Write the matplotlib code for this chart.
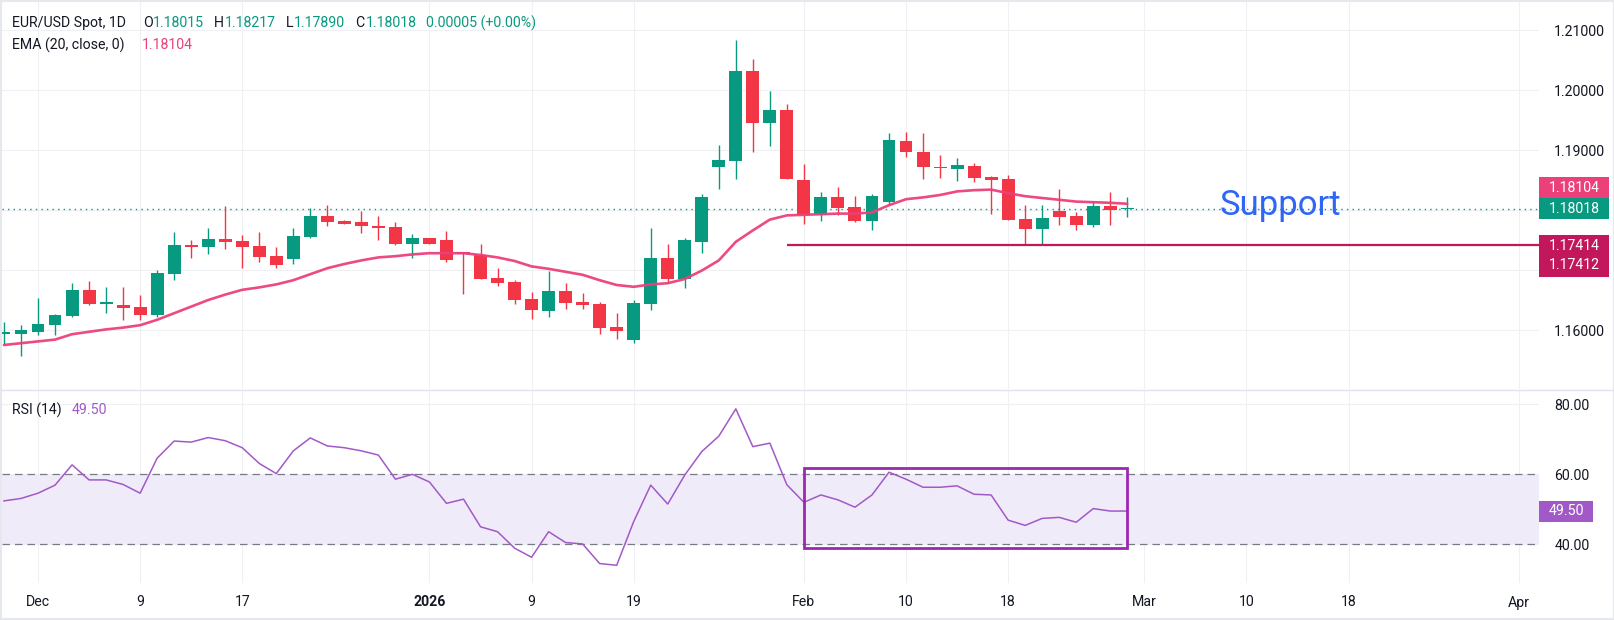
import numpy as np
import pandas as pd
import matplotlib
matplotlib.use('Agg')
import matplotlib.pyplot as plt
from matplotlib.patches import Rectangle
from matplotlib.transforms import blended_transform_factory

plt.rcParams['font.family'] = ['Roboto', 'DejaVu Sans']

# ---------------- data ----------------
dates = pd.bdate_range('2025-11-27', '2026-02-27')

opens = [1.1594, 1.1594, 1.1596, 1.1609, 1.1624, 1.1667, 1.1644, 1.1642, 1.1638, 1.1625,
         1.1693, 1.1742, 1.1738, 1.1752, 1.1748, 1.1740, 1.1723, 1.1718, 1.1755, 1.1790,
         1.1782, 1.1780, 1.1773, 1.1772, 1.1743, 1.1753, 1.1750, 1.1729, 1.1725, 1.1687,
         1.1680, 1.1652, 1.1632, 1.1665, 1.1647, 1.1643, 1.1605, 1.1583, 1.1643, 1.1720,
         1.1685, 1.1747, 1.1872, 1.1882, 1.2032, 1.1945, 1.1967, 1.1850, 1.1791, 1.1822,
         1.1805, 1.1781, 1.1814, 1.1915, 1.1897, 1.1872, 1.1868, 1.1873, 1.1855, 1.1852,
         1.1785, 1.1768, 1.1798, 1.1790, 1.1775, 1.1807, 1.18015]
highs = [1.1613, 1.1608, 1.1653, 1.1627, 1.1678, 1.1682, 1.1672, 1.1672, 1.1658, 1.1700,
         1.1763, 1.1750, 1.1770, 1.1806, 1.1758, 1.1763, 1.1738, 1.1770, 1.1803, 1.1808,
         1.1783, 1.1798, 1.1790, 1.1780, 1.1760, 1.1754, 1.1765, 1.1730, 1.1743, 1.1703,
         1.1683, 1.1663, 1.1698, 1.1678, 1.1662, 1.1647, 1.1628, 1.1650, 1.1770, 1.1743,
         1.1753, 1.1827, 1.1908, 1.2083, 1.2052, 1.1998, 1.1977, 1.1877, 1.1830, 1.1838,
         1.1823, 1.1827, 1.1928, 1.1930, 1.1928, 1.1892, 1.1887, 1.1878, 1.1856, 1.1858,
         1.1808, 1.1808, 1.1835, 1.1797, 1.1815, 1.1830, 1.18217]
lows = [1.1576, 1.1556, 1.1591, 1.1592, 1.1622, 1.1642, 1.1629, 1.1617, 1.1616, 1.1622,
        1.1684, 1.1720, 1.1727, 1.1735, 1.1703, 1.1713, 1.1703, 1.1710, 1.1754, 1.1773,
        1.1776, 1.1762, 1.1750, 1.1742, 1.1720, 1.1743, 1.1713, 1.1660, 1.1685, 1.1673,
        1.1643, 1.1618, 1.1622, 1.1635, 1.1635, 1.1593, 1.1585, 1.1578, 1.1633, 1.1678,
        1.1670, 1.1728, 1.1835, 1.1852, 1.1897, 1.1907, 1.1851, 1.1777, 1.1782, 1.1792,
        1.1780, 1.1767, 1.1809, 1.1889, 1.1852, 1.1853, 1.1848, 1.1847, 1.1793, 1.1783,
        1.1742, 1.1742, 1.1775, 1.1767, 1.1772, 1.1775, 1.17890]
closes = [1.1595, 1.1600, 1.1610, 1.1625, 1.1667, 1.1644, 1.1645, 1.1637, 1.1625, 1.1695,
          1.1742, 1.1738, 1.1752, 1.1747, 1.1738, 1.1722, 1.1708, 1.1757, 1.1790, 1.1780,
          1.1777, 1.1773, 1.1770, 1.1743, 1.1753, 1.1743, 1.1717, 1.1727, 1.1685, 1.1678,
          1.1650, 1.1633, 1.1665, 1.1645, 1.1642, 1.1603, 1.1598, 1.1645, 1.1720, 1.1685,
          1.1750, 1.1822, 1.1883, 1.2032, 1.1945, 1.1967, 1.1852, 1.1791, 1.1822, 1.1804,
          1.1781, 1.1823, 1.1917, 1.1896, 1.1871, 1.1870, 1.1875, 1.1853, 1.1850, 1.1783,
          1.1768, 1.1787, 1.1788, 1.1775, 1.1807, 1.1800, 1.18018]

ema20 = [1.1575, 1.1578, 1.1581, 1.1584, 1.1593, 1.1597, 1.1601, 1.1604, 1.1608, 1.1617,
         1.1628, 1.1639, 1.1650, 1.1659, 1.1667, 1.1671, 1.1676, 1.1683, 1.1693, 1.1703,
         1.1710, 1.1716, 1.1721, 1.1723, 1.1726, 1.1728, 1.1728, 1.1728, 1.1725, 1.1721,
         1.1715, 1.1706, 1.1702, 1.1697, 1.1692, 1.1683, 1.1675, 1.1672, 1.1676, 1.1678,
         1.1685, 1.1699, 1.1716, 1.1747, 1.1766, 1.1784, 1.1791, 1.1792, 1.1793, 1.1794,
         1.1794, 1.1796, 1.1808, 1.1818, 1.1821, 1.1825, 1.1831, 1.1833, 1.1834, 1.1828,
         1.1823, 1.1820, 1.1817, 1.1814, 1.1813, 1.1812, 1.18104]

rsi14 = [52.4, 53.1, 54.6, 56.9, 62.7, 58.4, 58.4, 57.1, 54.6, 64.6,
         69.5, 69.2, 70.5, 69.6, 67.6, 63.1, 60.2, 66.7, 70.4, 68.1,
         67.6, 66.7, 65.5, 58.6, 60.0, 57.8, 51.7, 52.9, 45.0, 43.6,
         38.9, 36.3, 43.6, 40.5, 40.1, 34.5, 34.0, 46.5, 56.9, 51.5,
         59.8, 66.5, 70.9, 78.7, 67.9, 68.9, 57.0, 52.0, 54.1, 52.7,
         50.6, 54.1, 60.6, 58.6, 56.3, 56.3, 56.7, 54.3, 54.1, 46.9,
         45.4, 47.4, 47.7, 46.3, 50.2, 49.5, 49.5]

tick_dates = ['2025-12-01', '2025-12-09', '2025-12-17', '2026-01-01', '2026-01-09',
              '2026-01-19', '2026-02-02', '2026-02-10', '2026-02-18', '2026-03-02',
              '2026-03-10', '2026-03-18', '2026-04-01']
tick_labels = ['Dec', '9', '17', '2026', '9', '19', 'Feb', '10', '18', 'Mar', '10', '18', 'Apr']

price_ticks = [1.16, 1.17, 1.18, 1.19, 1.20, 1.21]
price_tick_labels = ['1.16000', '', '', '1.19000', '1.20000', '1.21000']
rsi_ticks = [40, 60, 80]
rsi_tick_labels = ['40.00', '60.00', '80.00']

ema_last = 1.18104
close_last = 1.18018
support_level = 1.17414
support_level2 = 1.17412
rsi_last = 49.50
rsi_box = (39.0, 61.8)
support_start = '2026-01-30'
box_start, box_end = '2026-02-02', '2026-02-27'
support_text_date = '2026-03-12'
support_text_level = 1.18083

# --------------- colors ---------------
UP = '#089981'
DN = '#f23645'
EMA_C = '#ec407a'
SUP_C = '#c2185b'
RSI_C = '#a259c8'
GRID = '#eef0f4'
TXT = '#131722'

# --------------- positions ------------
all_days = pd.bdate_range('2025-11-27', '2026-04-30')
day_pos = {d: i for i, d in enumerate(all_days)}
x = np.array([day_pos[d] for d in dates])
tick_pos = [day_pos[pd.Timestamp(d)] for d in tick_dates]

W, H = 1615, 620
fig = plt.figure(figsize=(W / 100, H / 100), dpi=100)
fig.patch.set_facecolor('white')

ax = fig.add_axes([2 / W, (H - 389) / H, 1537 / W, 387 / H])
ax2 = fig.add_axes([2 / W, (H - 583) / H, 1537 / W, 193 / H], sharex=ax)

pxbar = 17.02
x_left = tick_pos[0] - 36 / pxbar
x_right = tick_pos[0] + (1539 - 38) / pxbar
ax.set_xlim(x_left, x_right)
ax.set_ylim(1.150167, 1.214667)
ax2.set_ylim(28.94, 84.09)

for a in (ax, ax2):
    for s in a.spines.values():
        s.set_visible(False)
    a.set_facecolor('white')
    a.tick_params(length=0)
    a.set_xticks(tick_pos)
    a.grid(True, color=GRID, lw=0.8, zorder=0)
    a.set_axisbelow(True)

# price pane axis
ax.yaxis.tick_right()
ax.set_yticks(price_ticks)
ax.set_yticklabels(price_tick_labels)
ax.tick_params(axis='y', pad=11, labelsize=10.2, labelcolor=TXT)
ax.tick_params(axis='x', labelbottom=False)

ax2.yaxis.tick_right()
ax2.set_yticks(rsi_ticks)
ax2.set_yticklabels(rsi_tick_labels)
ax2.tick_params(axis='y', pad=11, labelsize=10.2, labelcolor=TXT)
ax2.set_xticklabels(tick_labels)
ax2.tick_params(axis='x', pad=9, labelsize=10.2, labelcolor=TXT)
for lab in ax2.get_xticklabels():
    if lab.get_text() == '2026':
        lab.set_fontweight('bold')

# candles
o = np.array(opens); h = np.array(highs); l = np.array(lows); c = np.array(closes)
up = c >= o
cols = np.where(up, UP, DN)
ax.vlines(x, l, h, colors=cols, lw=1.0, zorder=3)
body_lo = np.minimum(o, c)
body_h = np.maximum(np.abs(c - o), 0.00022)
ax.bar(x, body_h, bottom=body_lo, width=0.76, color=cols, edgecolor='none', zorder=4)

# EMA
ax.plot(x, ema20, color=EMA_C, lw=1.9, alpha=0.95, zorder=5, solid_capstyle='round')

# close dotted line
ax.axhline(close_last, color=UP, lw=1.0, ls=(0, (1, 3)), zorder=2)

# support line
ax.hlines(support_level, day_pos[pd.Timestamp(support_start)], x_right,
          color=SUP_C, lw=1.6, zorder=6)

# Support text
ax.text(day_pos[pd.Timestamp(support_text_date)], support_text_level, 'Support',
        color='#2f66f5', fontsize=25, ha='center', va='center', zorder=7)

# RSI pane
ax2.axhspan(40, 60, color='#f0ebf8', zorder=1, lw=0)
for lvl in (40, 60):
    ax2.axhline(lvl, color='#787b86', lw=0.9, ls=(0, (6, 4)), zorder=2)
ax2.plot(x, rsi14, color=RSI_C, lw=1.1, zorder=4)
bx0 = day_pos[pd.Timestamp(box_start)]
bx1 = day_pos[pd.Timestamp(box_end)]
ax2.add_patch(Rectangle((bx0, rsi_box[0]), bx1 - bx0, rsi_box[1] - rsi_box[0],
                        fill=False, edgecolor='#9c27b0', lw=2.0, zorder=5))

# --------------- price tags ------------
def tag(a, value, text, color, width_px, height_px, offset_px=0.0):
    ppu = a.bbox.height / (a.get_ylim()[1] - a.get_ylim()[0])
    tr = blended_transform_factory(a.transAxes, a.transData)
    wfrac = width_px / a.bbox.width
    yc = value + offset_px / ppu
    a.add_patch(Rectangle((1.0, yc - height_px / 2 / ppu), wfrac, height_px / ppu,
                          transform=tr, clip_on=False, facecolor=color,
                          edgecolor='none', zorder=10))
    a.text(1.0 + wfrac / 2, yc, text, transform=tr, color='white', fontsize=10.2,
           ha='center', va='center', clip_on=False, zorder=11, linespacing=1.45)

tag(ax, close_last, '%.5f' % close_last, UP, 70, 21)
tag(ax, close_last, '%.5f' % ema_last, EMA_C, 70, 21, offset_px=21)
tag(ax, support_level, '%.5f\n%.5f' % (support_level, support_level2), SUP_C, 70, 42,
    offset_px=-10.5)
tag(ax2, rsi_last, '%.2f' % rsi_last, RSI_C, 54, 21)

# divider between panes
fig.add_artist(plt.Line2D([2 / W, 1 - 2 / W], [(H - 389.5) / H] * 2, color='#e0e3eb',
                          lw=1.0, transform=fig.transFigure))
# outer border
fig.add_artist(Rectangle((0, 0), 1, 1, transform=fig.transFigure, fill=False,
                         edgecolor='#e6e8ee', lw=3.0))

# --------------- header texts -----------
def ftext(px, py, s, color, size=10.2, **kw):
    fig.text(px / W, 1 - py / H, s, color=color, fontsize=size, ha='left', va='center', **kw)

ftext(12, 23, 'EUR/USD Spot, 1D', TXT)
ftext(143, 23, 'O', TXT)
ftext(153, 23, '%.5f' % opens[-1], UP)
ftext(214, 23, 'H', TXT)
ftext(225, 23, '%.5f' % highs[-1], UP)
ftext(286, 23, 'L', TXT)
ftext(294, 23, '%.5f' % lows[-1], UP)
ftext(355, 23, 'C', TXT)
ftext(366, 23, '%.5f' % closes[-1], UP)
ftext(426, 23, '0.00005 (+0.00%)', UP)
ftext(12, 45, 'EMA (20, close, 0)', TXT)
ftext(142, 45, '%.5f' % ema_last, EMA_C)
ftext(12, 410, 'RSI (14)', TXT)
ftext(72, 410, '%.2f' % rsi_last, RSI_C)

fig.savefig('out.png', dpi=100, facecolor='white')
